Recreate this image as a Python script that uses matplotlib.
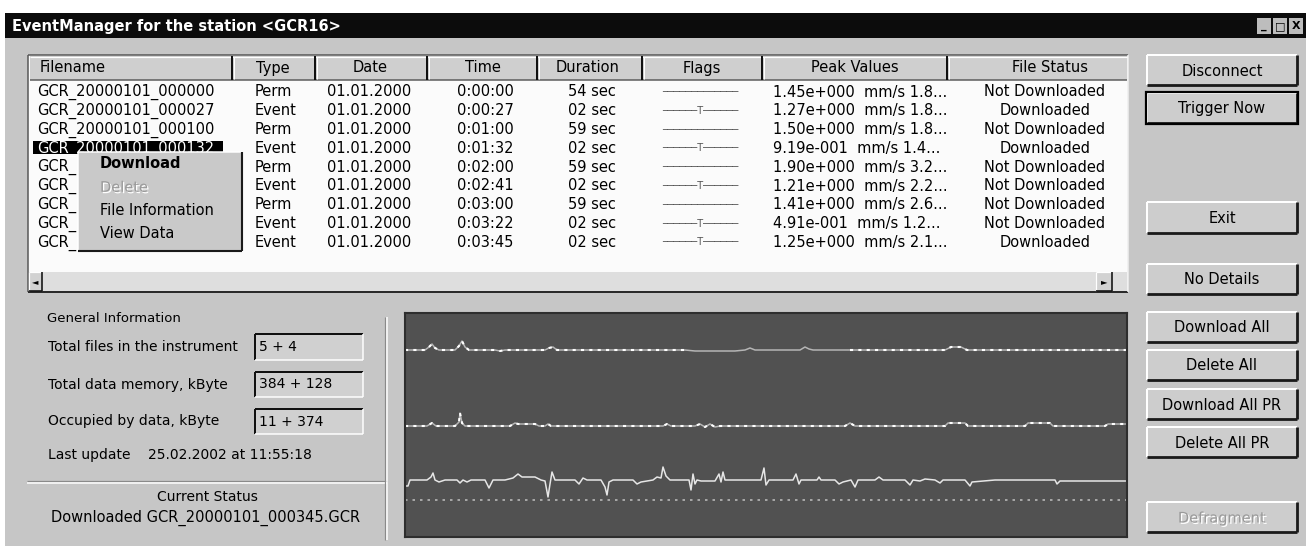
import matplotlib
matplotlib.use("Agg")
import matplotlib.pyplot as plt
import matplotlib.patheffects as pe
from matplotlib.patches import Rectangle

# ---- data ----
TITLE = "EventManager for the station <GCR16>"
COLUMNS = ["Filename", "Type", "Date", "Time", "Duration", "Flags", "Peak Values", "File Status"]
FILENAMES = ["GCR_20000101_000000", "GCR_20000101_000027", "GCR_20000101_000100",
             "GCR_20000101_000132", "GCR_20000101_000200", "GCR_20000101_000241",
             "GCR_20000101_000300", "GCR_20000101_000322", "GCR_20000101_000345"]
TYPES = ["Perm", "Event", "Perm", "Event", "Perm", "Event", "Perm", "Event", "Event"]
DATES = ["01.01.2000"] * 9
TIMES = ["0:00:00", "0:00:27", "0:01:00", "0:01:32", "0:02:00", "0:02:41", "0:03:00", "0:03:22", "0:03:45"]
DURATIONS = ["54 sec", "02 sec", "59 sec", "02 sec", "59 sec", "02 sec", "59 sec", "02 sec", "02 sec"]
PEAKS = ["1.45e+000", "1.27e+000", "1.50e+000", "9.19e-001", "1.90e+000",
         "1.21e+000", "1.41e+000", "4.91e-001", "1.25e+000"]
PEAK_TAILS = ["1.8...", "1.8...", "1.8...", "1.4...", "3.2...", "2.2...", "2.6...", "1.2...", "2.1..."]
STATUS = ["Not Downloaded", "Downloaded", "Not Downloaded", "Downloaded", "Not Downloaded",
          "Not Downloaded", "Not Downloaded", "Not Downloaded", "Downloaded"]
SELECTED_ROW = 3
MENU_ITEMS = ["Download", "Delete", "File Information", "View Data"]
MENU_ENABLED = [True, False, True, True]
BUTTONS_TOP = ["Disconnect", "Trigger Now", "Exit", "No Details"]
BUTTONS_BOTTOM = ["Download All", "Delete All", "Download All PR", "Delete All PR", "Defragment"]
INFO_LABELS = ["Total files in the instrument", "Total data memory, kByte", "Occupied by data, kByte"]
INFO_VALUES = ["5 + 4", "384 + 128", "11 + 374"]
LAST_UPDATE = "25.02.2002 at 11:55:18"
CURRENT_STATUS = "Downloaded GCR_20000101_000345.GCR"

# seismogram traces: sample position (px from panel left), deflection (px, up positive)
T1_X = [0, 20, 24, 27, 30, 34, 50, 54, 57, 60, 64, 90, 95, 100, 140, 144, 148, 152, 280, 290,
        330, 340, 345, 350, 395, 400, 404, 408, 445, 540, 546, 556, 562, 722]
T1_Y = [0, 0, 3, 6, 2, 0, 0, 4, 9, 3, 0, 0, -1, 0, 0, 2, 3, 0, 0, -1,
        -1, 0, 2, 0, 0, 3, 1, 0, 0, 0, 3, 3, 0, 0]
T2_X = [0, 22, 27, 31, 50, 54, 55, 57, 60, 105, 110, 113, 130, 134, 140, 143, 146, 258, 262, 266,
        290, 295, 300, 305, 310, 315, 440, 445, 450, 540, 543, 560, 563, 620, 623, 645, 648, 700, 703, 722]
T2_Y = [0, 0, 3, 0, 0, 4, 13, 3, 0, 0, 3, 2, 2, 0, 0, 2, 0, 0, 2, 0,
        0, 2, -1, 2, -1, 0, 0, 3, 0, 0, 3, 3, 0, 0, 3, 3, 0, 0, 2, 2]
T3_X = [0, 3, 5, 22, 26, 28, 30, 34, 40, 52, 55, 58, 62, 66, 80, 84, 88, 100, 108, 113, 117, 130,
        136, 140, 143, 145, 147, 150, 170, 174, 178, 182, 196, 200, 202, 204, 208, 228, 232, 236,
        248, 252, 256, 258, 261, 265, 284, 286, 288, 290, 292, 296, 310, 314, 316, 318, 320, 356,
        359, 361, 364, 388, 391, 394, 396, 412, 414, 416, 430, 434, 438, 446, 450, 453, 470, 474,
        478, 500, 505, 508, 515, 520, 530, 535, 538, 560, 565, 567, 590, 650, 652, 655, 722]
T3_Y = [-6, -6, 0, 0, 3, 7, 0, -2, 0, 0, -3, 0, -2, 0, 0, -8, 0, 0, 2, 6, 3, 3,
        0, -1, -17, -4, 8, 0, 0, -4, 2, 0, 0, -7, -15, -2, 0, 0, -4, -2,
        0, 3, 2, 13, 4, 0, 0, -10, 6, -4, 0, -1, -1, 6, -2, 8, 0, 0,
        12, -5, 0, 0, 6, -4, 0, 0, 3, 0, 0, -4, -2, 0, -7, 0, 0, 3,
        0, 0, -5, 0, -1, 1, 0, -3, 0, 0, -6, -2, 0, 0, -4, -1, -1]

W, H = 1306, 552
FACE = "#c6c6c6"
BTN = "#cdcdcd"
FONT = "DejaVu Sans"
FS = 10.5
EMBOSS = [pe.withSimplePatchShadow(offset=(1, -1), shadow_rgbFace="white", alpha=1.0)]

fig = plt.figure(figsize=(W / 100, H / 100), dpi=100)
fig.patch.set_facecolor("white")
ax = fig.add_axes([0, 0, 1, 1])
ax.set_xlim(0, W); ax.set_ylim(H, 0); ax.axis("off")


def rect(x0, y0, x1, y1, fc, z=1):
    ax.add_patch(Rectangle((x0, y0), x1 - x0, y1 - y0, facecolor=fc, edgecolor="none", zorder=z))


def line(xs, ys, c, lw=1, z=2, **kw):
    ax.plot(xs, ys, color=c, lw=lw * 0.72, solid_capstyle="butt", zorder=z, **kw)


def bevel(x0, y0, x1, y1, light="white", dark="#1a1a1a", lw=1.5, z=3):
    line([x0, x1], [y0, y0], light, lw, z); line([x0, x0], [y0, y1], light, lw, z)
    line([x0, x1], [y1, y1], dark, lw * 1.4, z); line([x1, x1], [y0, y1], dark, lw * 1.4, z)


def txt(x, y, s, size=FS, ha="left", color="black", weight="normal", z=5, disabled=False):
    t = ax.text(x, y, s, fontsize=size, ha=ha, va="center", color="#9a9a9a" if disabled else color,
                family=FONT, fontweight=weight, zorder=z)
    if disabled:
        t.set_path_effects(EMBOSS)
    return t


def button(x0, y0, x1, y1, label, default=False, enabled=True):
    rect(x0, y0, x1, y1, BTN, z=2)
    bevel(x0, y0, x1, y1, lw=2)
    if default:
        ax.add_patch(Rectangle((x0 - 1, y0 - 1), x1 - x0 + 2, y1 - y0 + 2, fill=False,
                               edgecolor="black", lw=1.6, zorder=4))
    txt((x0 + x1) / 2, (y0 + y1) / 2 + 1, label, ha="center", disabled=not enabled)


# window frame and title bar
rect(5, 13, W, 546, FACE, z=0)
rect(5, 13, W, 38, "#0c0c0c", z=1)
txt(12, 26, TITLE, size=10.5, color="white", weight="bold")
for i, sym in enumerate(["_", "\u25a1", "X"]):
    bx = 1257 + i * 16
    rect(bx, 18, bx + 14, 34, "#bdbdbd", z=2)
    txt(bx + 7, 26, sym, size=8, ha="center", weight="bold")

# list view
TX0, TX1, TY0, TY1, HB = 28, 1128, 55, 292, 80
rect(TX0, TY0, TX1, TY1, "#fbfbfb", z=1)
line([TX0, TX1], [TY0, TY0], "#555555", 1.5); line([TX0, TX0], [TY0, TY1], "#555555", 1.5)
line([TX0, TX1], [TY1, TY1], "#2a2a2a", 2); line([TX1, TX1], [TY0, TY1], "#eeeeee", 1.5)
rect(TX0 + 2, TY0 + 1, TX1 - 1, HB, "#cfcfcf", z=2)
line([TX0 + 2, TX1 - 1], [TY0 + 2, TY0 + 2], "white", 1.2, z=3)
line([TX0 + 2, TX1 - 1], [HB, HB], "#5a5a5a", 1.5, z=3)
col_edges = [TX0, 232, 315, 427, 537, 642, 762, 947, TX1]
for xe in col_edges[1:-1]:
    line([xe, xe], [TY0 + 1, HB], "#111111", 2, z=3)
    line([xe + 2, xe + 2], [TY0 + 2, HB - 1], "white", 1, z=3)
head_x = [40, 273, 370, 483, 588, 702, 855, 1050]
head_ha = ["left"] + ["center"] * 7
for s, x, ha in zip(COLUMNS, head_x, head_ha):
    txt(x, 68, s, ha=ha)

row_y = [92 + 18.8 * i for i in range(len(FILENAMES))]
for i, y in enumerate(row_y):
    if i == SELECTED_ROW:
        rect(33, y - 7, 223, y + 6, "black", z=3)
        txt(37, y, FILENAMES[i], color="white", z=4)
    elif i > SELECTED_ROW:
        # the context menu hides all but the prefix of these names
        txt(37, y, FILENAMES[i][:4])
    else:
        txt(37, y, FILENAMES[i])
    txt(255, y, TYPES[i])
    txt(327, y, DATES[i])
    txt(457, y, TIMES[i])
    txt(568, y, DURATIONS[i])
    flag = "\u2500" * 6 + "T" + "\u2500" * 6 if TYPES[i] == "Event" else "\u2500" * 13
    txt(700, y, flag, size=7, ha="center", color="#555555")
    txt(773, y, f"{PEAKS[i]}  mm/s {PEAK_TAILS[i]}")
    txt(1045, y, STATUS[i], ha="center")

# horizontal scrollbar
rect(TX0 + 1, 272, TX1 - 1, 291, "#dedede", z=3)
for bx0, bx1, arrow in [(TX0 + 1, 42, "\u25c4"), (1096, 1112, "\u25ba")]:
    rect(bx0, 272, bx1, 291, "#d2d2d2", z=4)
    bevel(bx0, 272, bx1, 291, lw=1.2, z=5)
    txt((bx0 + bx1) / 2, 282, arrow, size=6, ha="center", z=6)

# context menu over the selected row
MX0, MY0, MX1, MY1 = 78, 152, 242, 251
rect(MX0, MY0, MX1, MY1, "#c9c9c9", z=7)
bevel(MX0, MY0, MX1, MY1, dark="#1a1a1a", lw=1.5, z=8)
for i, (item, on) in enumerate(zip(MENU_ITEMS, MENU_ENABLED)):
    y = 164 + 23.3 * i
    txt(100, y, item, z=9, weight="bold" if i == 0 else "normal", disabled=not on)

# right-hand buttons
BX0, BX1 = 1147, 1297
top_y = [(55, 85), (93, 123), (202, 233), (264, 294)]
for (y0, y1), lab in zip(top_y, BUTTONS_TOP):
    button(BX0, y0, BX1, y1, lab, default=(lab == "Trigger Now"))
bot_y = [(312, 342), (350, 380), (389, 419), (427, 457), (502, 532)]
for (y0, y1), lab in zip(bot_y, BUTTONS_BOTTOM):
    button(BX0, y0, BX1, y1, lab, enabled=(lab != "Defragment"))

# general information block
txt(47, 318, "General Information", size=9.5)
box_y = [(334, 360), (372, 397), (409, 434)]
for lab, val, (y0, y1) in zip(INFO_LABELS, INFO_VALUES, box_y):
    cy = (y0 + y1) / 2
    txt(48, cy, lab, size=10)
    rect(255, y0, 363, y1, "#d0d0d0", z=2)
    line([255, 363], [y0, y0], "#111111", 2, z=3); line([255, 255], [y0, y1], "#111111", 2, z=3)
    line([255, 363], [y1, y1], "white", 1.5, z=3); line([363, 363], [y0, y1], "white", 1.5, z=3)
    txt(259, cy, val, size=10)
txt(48, 455, "Last update", size=10)
txt(148, 455, LAST_UPDATE, size=10)
line([27, 387], [481, 481], "#8a8a8a", 1.2); line([27, 387], [483, 483], "white", 1.5)
line([385, 385], [317, 540], "#8a8a8a", 1.2); line([387, 387], [317, 540], "white", 1.5)
txt(207, 497, "Current Status", size=10, ha="center")
txt(206, 518, CURRENT_STATUS, ha="center")

# seismogram panel
PX0, PY0, PX1, PY1 = 405, 313, 1127, 537
gax = fig.add_axes([PX0 / W, 1 - PY1 / H, (PX1 - PX0) / W, (PY1 - PY0) / H])
gax.set_facecolor("#515151")
gax.set_xlim(0, PX1 - PX0); gax.set_ylim(PY1 - PY0, 0)
gax.set_xticks([]); gax.set_yticks([])
for sp in gax.spines.values():
    sp.set_color("#2e2e2e"); sp.set_linewidth(1.5)
base1, base2, base3, ref3 = 37, 113, 167, 187
gax.plot([0, 722], [ref3, ref3], color="#b8b8b8", lw=1.2, ls=(0, (1.5, 3)))
gax.plot(T1_X, [base1 - v for v in T1_Y], color="#b5b5b5", lw=1.1)
gax.plot(T1_X[:19], [base1 - v for v in T1_Y[:19]], color="white", lw=1.5, ls=(0, (1.5, 2.5)))
gax.plot(T1_X[28:], [base1 - v for v in T1_Y[28:]], color="white", lw=1.5, ls=(0, (1.5, 2.5)))
gax.plot(T2_X, [base2 - v for v in T2_Y], color="#b5b5b5", lw=1.1)
gax.plot(T2_X, [base2 - v for v in T2_Y], color="white", lw=1.5, ls=(0, (1.5, 2.5)))
gax.plot(T3_X, [base3 - v for v in T3_Y], color="#e6e6e6", lw=1.1)

fig.savefig("out.png", dpi=100, facecolor=fig.get_facecolor())
